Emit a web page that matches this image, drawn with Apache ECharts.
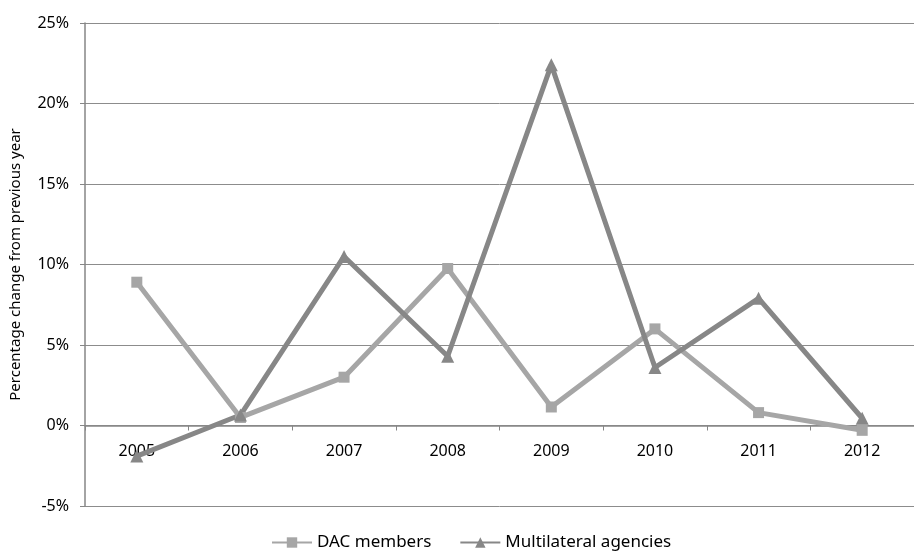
<!DOCTYPE html>
<html>
<head>
<meta charset="utf-8">
<script src="https://cdn.jsdelivr.net/npm/echarts@6/dist/echarts.min.js"></script>
<style>
  html, body { margin: 0; padding: 0; background: #fff; }
  #chart { width: 914px; height: 551px; }
</style>
</head>
<body>
<div id="chart"></div>
<script>
// Year-on-year percentage change, 2005-2012
const years = ['2005', '2006', '2007', '2008', '2009', '2010', '2011', '2012'];
const dacMembers = [8.9, 0.5, 3.0, 9.75, 1.15, 6.0, 0.8, -0.3];
const multilateralAgencies = [-1.9, 0.65, 10.5, 4.3, 22.4, 3.6, 7.9, 0.45];
const seriesNames = ['DAC members', 'Multilateral agencies'];

const FONT = '"Noto Sans", "Open Sans", sans-serif';
const axisGray = '#868686';

// value range of the y axis; the category axis sits on the 0% line
const yMin = -5, yMax = 25, yStep = 5;
const gridTop = 23, gridBottom = 45, chartHeight = 551;
const plotHeight = chartHeight - gridTop - gridBottom;
const zeroShift = plotHeight * (0 - yMin) / (yMax - yMin);

const chart = echarts.init(document.getElementById('chart'), null, { renderer: 'canvas' });
chart.setOption({
  animation: false,
  backgroundColor: '#ffffff',
  grid: { left: 82, right: -15, top: gridTop, bottom: gridBottom, containLabel: false },
  legend: {
    top: 529,
    left: 266,
    itemWidth: 40,
    itemHeight: 13,
    itemGap: 28,
    textStyle: { fontFamily: FONT, fontSize: 17, color: '#000' },
    data: seriesNames
  },
  xAxis: {
    type: 'category',
    data: years,
    boundaryGap: true,
    offset: -zeroShift,
    axisLine: { onZero: false, lineStyle: { color: axisGray, width: 1.5 } },
    axisTick: { show: true, alignWithLabel: false, length: 5, lineStyle: { color: axisGray } },
    axisLabel: { margin: 18, fontFamily: FONT, fontSize: 16, color: '#000' },
    splitLine: { show: false }
  },
  yAxis: {
    type: 'value',
    min: yMin,
    max: yMax,
    interval: yStep,
    name: 'Percentage change from previous year',
    nameLocation: 'middle',
    nameGap: 62,
    nameTextStyle: { fontFamily: FONT, fontSize: 15, color: '#000' },
    axisLine: { show: true, lineStyle: { color: axisGray, width: 1.5 } },
    axisTick: { show: true, length: 5, lineStyle: { color: axisGray } },
    axisLabel: { margin: 16, fontFamily: FONT, fontSize: 16, color: '#000', formatter: '{value}%' },
    splitLine: { show: true, lineStyle: { color: '#8c8c8c', width: 1 } }
  },
  series: [
    {
      name: seriesNames[0],
      type: 'line',
      data: dacMembers,
      symbol: 'rect',
      symbolSize: 11,
      lineStyle: { width: 5, color: '#a6a6a6' },
      itemStyle: { color: '#a6a6a6' }
    },
    {
      name: seriesNames[1],
      type: 'line',
      data: multilateralAgencies,
      symbol: 'triangle',
      symbolSize: 13,
      lineStyle: { width: 5, color: '#878787' },
      itemStyle: { color: '#878787' }
    }
  ]
});
</script>
</body>
</html>
